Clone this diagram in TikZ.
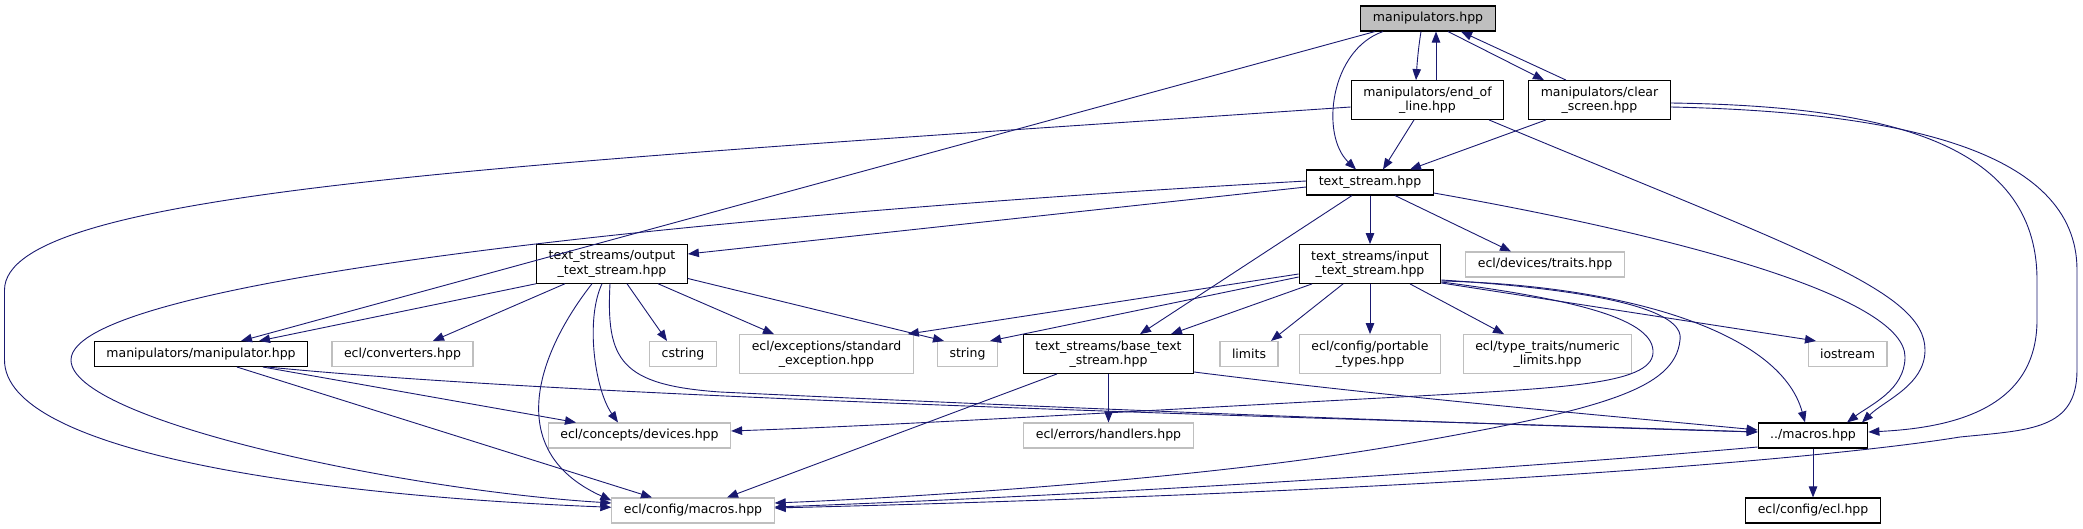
\documentclass[tikz,border=0pt]{standalone}
\usepackage{fontspec}
\setmainfont{DejaVu Sans}
\usetikzlibrary{arrows.meta}
\definecolor{edgeblue}{RGB}{25,25,112}
\definecolor{grey75}{RGB}{191,191,191}
\begin{document}
\begin{tikzpicture}[x=1pt,y=-1pt,
		box/.style={draw,line width=1.1pt,font=\fontsize{12.5}{14.3}\selectfont,inner xsep=12pt,inner ysep=6pt,minimum height=25pt,align=center},
		doc/.style={box,draw=black},
		undoc/.style={box,draw=grey75},
		cur/.style={box,draw=black,fill=grey75},
		inc/.style={draw=edgeblue,line width=0.9pt,-{Triangle[length=11pt,width=8.5pt]}}]
		\useasboundingbox (0,0) rectangle (2083,529);
		\node[cur] (root) at (1428,18.5) {manipulators.hpp};
		\node[doc] (eol) at (1427.5,100) {manipulators/end\_of\\\_line.hpp};
		\node[doc] (clr) at (1599.5,100) {manipulators/clear\\\_screen.hpp};
		\node[doc] (ts) at (1370,182.5) {text\_stream.hpp};
		\node[doc] (ots) at (612,264) {text\_streams/output\\\_text\_stream.hpp};
		\node[doc] (its) at (1370,264) {text\_streams/input\\\_text\_stream.hpp};
		\node[undoc] (trt) at (1545,264.5) {ecl/devices/traits.hpp};
		\node[doc] (mnp) at (201,354) {manipulators/manipulator.hpp};
		\node[undoc] (cnv) at (402.5,354) {ecl/converters.hpp};
		\node[undoc] (cst) at (683,354) {cstring};
		\node[undoc] (exc) at (826.5,354) {ecl/exceptions/standard\\\_exception.hpp};
		\node[undoc] (str) at (967.5,354) {string};
		\node[doc] (bts) at (1108.5,354) {text\_streams/base\_text\\\_stream.hpp};
		\node[undoc] (lim) at (1249,354) {limits};
		\node[undoc] (ptt) at (1370,354) {ecl/config/portable\\\_types.hpp};
		\node[undoc] (nml) at (1547.5,354) {ecl/type\_traits/numeric\\\_limits.hpp};
		\node[undoc] (ios) at (1847.5,354) {iostream};
		\node[undoc] (dev) at (639.5,435.5) {ecl/concepts/devices.hpp};
		\node[undoc] (hnd) at (1108.5,435.5) {ecl/errors/handlers.hpp};
		\node[doc] (mac) at (1813,435.5) {../macros.hpp};
		\node[undoc] (cfm) at (693,510.5) {ecl/config/macros.hpp};
		\node[doc] (ecl) at (1813,510.5) {ecl/config/ecl.hpp};
		% manipulators.hpp
		\draw[inc] ([xshift=-7pt]root.south) .. controls (1418,50) and (1417,65) .. ([xshift=-11.5pt]eol.north);
		\draw[inc] ([xshift=8.5pt]eol.north) -- ([xshift=8pt]root.south);
		\draw[inc] ([xshift=20pt]root.south) -- ([xshift=-55.5pt]clr.north);
		\draw[inc] ([xshift=-33.5pt]clr.north) -- ([xshift=33pt]root.south);
		\draw[inc] ([xshift=-45pt]root.south) .. controls (1330,50) and (1320,135) .. ([xshift=-14pt]ts.north);
		\draw[inc] ([xshift=-53pt]root.south) -- ([xshift=40pt]mnp.north);
		% end_of_line / clear_screen
		\draw[inc] ([yshift=-7pt]eol.west) .. controls (500,165) and (5,190) .. (4.5,290) -- (4.5,360) .. controls (4.5,450) and (300,495) .. (cfm);
		\draw[inc] ([xshift=-13.5pt]eol.south) -- ([xshift=13pt]ts.north);
		\draw[inc] ([xshift=61.5pt]eol.south) .. controls (1800,250) and (1925,290) .. (1925,350) .. controls (1925,385) and (1885,400) .. ([xshift=49pt]mac.north);
		\draw[inc] ([xshift=-53.5pt]clr.south) -- ([xshift=40pt]ts.north);
		\draw[inc] ([yshift=-3pt]clr.east) .. controls (1880,106) and (2037,140) .. (2037,280) -- (2037,320) .. controls (2037,410) and (1950,428) .. ([yshift=3.5pt]mac.east);
		\draw[inc] ([yshift=-7pt]clr.east) .. controls (1900,112) and (2077,150) .. (2077,270) -- (2077,370) .. controls (2077,430) and (2030,430) .. (1960,437) .. controls (1850,455) and (1500,490) .. ([yshift=2.5pt]cfm.east);
		% text_stream.hpp
		\draw[inc] ([yshift=-4.5pt]ts.west) -- ([yshift=10pt]ots.east);
		\draw[inc] ([yshift=1.5pt]ts.west) .. controls (700,215) and (71,280) .. (71,360) .. controls (71,420) and (400,490) .. ([yshift=7.5pt]cfm.west);
		\draw[inc] ([xshift=-18pt]ts.south) -- ([xshift=31.5pt]bts.north);
		\draw[inc] (ts) -- (its);
		\draw[inc] ([xshift=25pt]ts.south) -- ([xshift=-34pt]trt.north);
		\draw[inc] ([yshift=-10.5pt]ts.east) .. controls (1700,240) and (1905,300) .. (1905,357) .. controls (1905,390) and (1870,405) .. ([xshift=34pt]mac.north);
		% output_text_stream.hpp
		\draw[inc] (ots.south west) -- ([xshift=58pt]mnp.north);
		\draw[inc] ([xshift=-47pt]ots.south) -- ([xshift=30.5pt]cnv.north);
		\draw[inc] ([xshift=15pt]ots.south) -- ([xshift=-16pt]cst.north);
		\draw[inc] ([xshift=46pt]ots.south) -- ([xshift=-52.5pt]exc.north);
		\draw[inc] ([yshift=-14.5pt]ots.east) -- ([xshift=7pt]str.north west);
		\draw[inc] ([xshift=-10pt]ots.south) .. controls (585,320) and (595,390) .. ([xshift=-21.5pt]dev.north);
		\draw[inc] ([xshift=-20pt]ots.south) .. controls (540,350) and (500,450) .. ([yshift=10pt]cfm.west);
		\draw[inc] ([xshift=-2pt]ots.south) .. controls (606,360) and (620,385) .. (720,392) .. controls (1100,410) and (1500,425) .. ([yshift=3.5pt]mac.west);
		% manipulator.hpp
		\draw[inc] ([xshift=62pt]mnp.south) -- ([xshift=-63.5pt]dev.north);
		\draw[inc] ([xshift=36pt]mnp.south) -- ([xshift=-41pt]cfm.north);
		\draw[inc] ([xshift=67pt]mnp.south) .. controls (600,400) and (1400,420) .. ([yshift=3.5pt]mac.west);
		% base_text_stream.hpp
		\draw[inc] ([xshift=-51.5pt]bts.south) -- ([xshift=34pt]cfm.north);
		\draw[inc] (bts) -- (hnd);
		\draw[inc] ([yshift=-18pt]bts.east) .. controls (1400,398) and (1600,415) .. ([yshift=5.5pt]mac.west);
		% input_text_stream.hpp
		\draw[inc] ([yshift=-10pt]its.west) -- ([xshift=-6pt]exc.north east);
		\draw[inc] ([yshift=-13pt]its.west) -- ([xshift=22.5pt]str.north);
		\draw[inc] ([xshift=-58pt]its.south) -- ([xshift=62.5pt]bts.north);
		\draw[inc] ([xshift=-27pt]its.south) -- ([xshift=22pt]lim.north);
		\draw[inc] (its) -- (ptt);
		\draw[inc] ([xshift=40pt]its.south) -- ([xshift=-43.5pt]nml.north);
		\draw[inc] ([yshift=-19pt]its.east) -- ([xshift=-31.5pt]ios.north);
		\draw[inc] ([yshift=-17pt]its.east) .. controls (1620,285) and (1780,330) .. ([xshift=-8pt]mac.north);
		\draw[inc] ([yshift=-18pt]its.east) .. controls (1580,300) and (1655,320) .. (1653,353) .. controls (1651,385) and (1560,388) .. (1400,397) .. controls (1100,413) and (900,425) .. ([yshift=4.5pt]dev.east);
		\draw[inc] ([yshift=-16pt]its.east) .. controls (1600,290) and (1685,310) .. (1680,340) .. controls (1675,390) and (1600,410) .. (1400,445) .. controls (1200,480) and (900,498) .. ([yshift=7.5pt]cfm.east);
		% ../macros.hpp
		\draw[inc] ([yshift=-11.5pt]mac.west) .. controls (1500,470) and (1100,495) .. ([yshift=3.5pt]cfm.east);
		\draw[inc] (mac) -- (ecl);
	\end{tikzpicture}
\end{document}
